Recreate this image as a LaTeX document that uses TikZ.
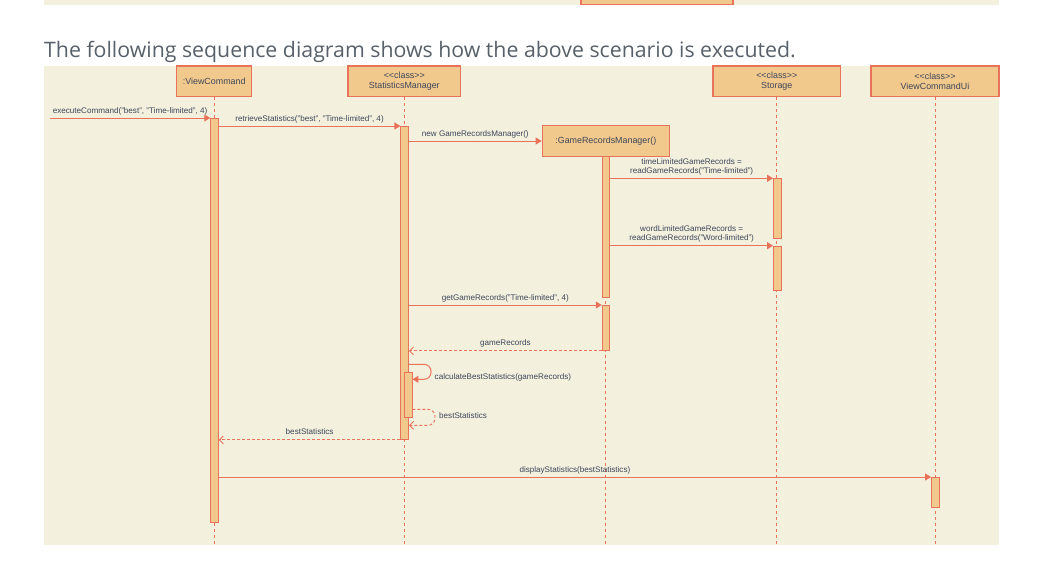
\documentclass[tikz,border=0pt]{standalone}
\usepackage{fontspec}
\setmainfont{Liberation Sans}
\newfontfamily\openSans{Open Sans}
\usetikzlibrary{arrows.meta}
\usepackage{xcolor}

\definecolor{bgC}{RGB}{244,240,222}
\definecolor{boxC}{RGB}{242,201,140}
\definecolor{lineC}{RGB}{232,115,90}
\definecolor{txtC}{RGB}{60,70,90}
\definecolor{headC}{RGB}{88,96,105}

\newcommand{\boxsize}{\fontsize{8.9}{10.7}\selectfont}
\newcommand{\msgsize}{\fontsize{8.1}{9}\selectfont}
\newcommand{\stereo}{<{}<class>{}>}

\tikzset{
  actor/.style={draw=lineC, fill=boxC, line width=1.2pt, minimum height=30.7, inner sep=0pt, align=center, text=txtC, font=\boxsize},
  activ/.style={draw=lineC, fill=boxC, line width=0.9pt, minimum width=7.6, inner sep=0pt, anchor=north},
  life/.style={draw=lineC, line width=0.8pt, dash pattern=on 3pt off 3pt},
  msg/.style={draw=lineC, line width=1pt, -{Triangle[length=6pt,width=7pt]}},
  ret/.style={draw=lineC, line width=0.9pt, dash pattern=on 3pt off 2pt, -{Straight Barb[length=4pt,width=8pt]}},
  lbl/.style={font=\msgsize, text=txtC, inner sep=0pt, align=center}
}

\begin{document}
\begin{tikzpicture}[x=1pt,y=1pt,yscale=-1]
\useasboundingbox (0,0) rectangle (1043,578);

% page bits above the diagram
\fill[bgC] (44,0) rectangle (999,5);
\draw[lineC, fill=boxC, line width=1.2pt] (581,-3) rectangle (733,4.5);
\node[anchor=base west, font=\openSans\fontsize{21.3}{26}\selectfont, text=headC, inner sep=0pt] (heading) at (44,57)
  {The following sequence diagram shows how the above scenario is executed.};

% diagram background
\fill[bgC] (44,66) rectangle (999,545);

% participants
\node[actor, minimum width=75] (vc) at (214.2,81.3) {:ViewCommand};
\node[actor, minimum width=112.7] (sm) at (404.3,81.3) {\stereo\\StatisticsManager};
\node[actor, minimum width=127.7] (st) at (776.8,81.3) {\stereo\\Storage};
\node[actor, minimum width=128] (ui) at (935,81.3) {\stereo\\ViewCommandUi};

% y levels of the messages
\coordinate (yCallA) at (0,364.3);
\coordinate (yCallB) at (0,379.3);
\coordinate (yBackA) at (0,409.3);
\coordinate (yBackB) at (0,425.3);
\coordinate (yEnd) at (0,545);
\coordinate (entry) at (50,118);

% lifelines
\foreach \p in {vc,sm,st,ui}
  \draw[life] (\p.south) -- (\p.south |- yEnd);

% created object
\node[actor, minimum width=127] (grm) at (605.8,141) {:GameRecordsManager()};
\draw[life] (grm.south) -- (grm.south |- yEnd);

% activation bars
\node[activ, minimum height=404] (vcBar) at (214.5,118) {};
\node[activ, minimum height=313] (smBar) at (404.7,126) {};
\node[activ, minimum height=141.3] (grBarA) at (606,156) {};
\node[activ, minimum height=45] (grBarB) at (606,305) {};
\node[activ, minimum height=60] (stBarA) at (777.3,178.3) {};
\node[activ, minimum height=44.3] (stBarB) at (777.3,245.7) {};
\node[activ, minimum height=45] (nestBar) at (408.2,372.3) {};
\node[activ, minimum height=30] (uiBar) at (935.3,477) {};

% messages
\draw[msg] (entry) -- (vcBar.north west)
  node[lbl, midway, anchor=base, yshift=5pt] {executeCommand("best", "Time-limited", 4)};
\draw[msg] (vcBar.east |- smBar.north) -- (smBar.north west)
  node[lbl, midway, anchor=base, yshift=5pt] {retrieveStatistics("best", "Time-limited", 4)};
\draw[msg] (smBar.east |- grm.west) -- (grm.west)
  node[lbl, midway, anchor=base, yshift=5pt] {new GameRecordsManager()};
\draw[msg] (grBarA.east |- stBarA.north) -- (stBarA.north west)
  node[lbl, midway, anchor=base, yshift=5pt] {timeLimitedGameRecords =\\readGameRecords("Time-limited")};
\draw[msg] (grBarA.east |- stBarB.north) -- (stBarB.north west)
  node[lbl, midway, anchor=base, yshift=5pt] {wordLimitedGameRecords =\\readGameRecords("Word-limited")};
\draw[msg] (smBar.east |- grBarB.north) -- (grBarB.north west)
  node[lbl, midway, anchor=base, yshift=5pt] {getGameRecords("Time-limited", 4)};
\draw[ret] (grBarB.south west) -- (smBar.east |- grBarB.south)
  node[lbl, midway, anchor=base, yshift=5pt] {gameRecords};
\draw[msg, rounded corners=7pt] (smBar.east |- yCallA) -- (431,364.3) -- (431,379.3) -- (nestBar.east |- yCallB);
\node[lbl, anchor=west] (callLbl) at (434.5,377) {calculateBestStatistics(gameRecords)};
\draw[ret, rounded corners=7pt] (nestBar.east |- yBackA) -- (435,409.3) -- (435,425.3) -- (smBar.east |- yBackB);
\node[lbl, anchor=west] (backLbl) at (439,415.3) {bestStatistics};
\draw[ret] (smBar.south west) -- (vcBar.east |- smBar.south)
  node[lbl, midway, anchor=base, yshift=5pt] {bestStatistics};
\draw[msg] (vcBar.east |- uiBar.north) -- (uiBar.north west)
  node[lbl, midway, anchor=base, yshift=5pt] {displayStatistics(bestStatistics)};

\end{tikzpicture}
\end{document}
